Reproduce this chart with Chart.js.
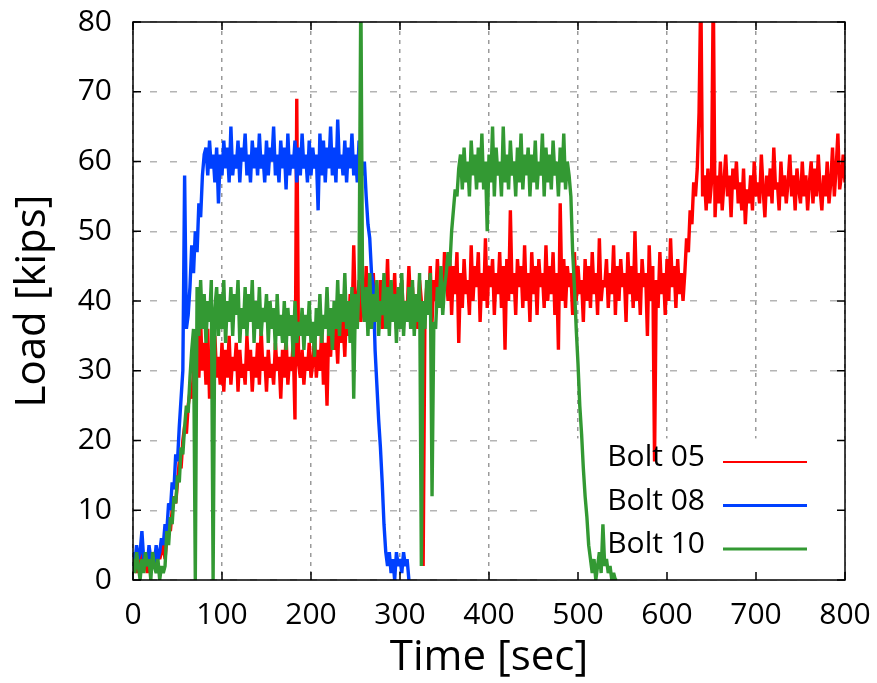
<!DOCTYPE html>
<html>
<head>
<meta charset="utf-8">
<title>Bolt load vs time</title>
<script src="https://cdn.jsdelivr.net/npm/chart.js@4.4.1/dist/chart.umd.min.js"></script>
<style>
  html, body { margin: 0; padding: 0; background: #fff; }
  #wrap { width: 877px; height: 683px; }
</style>
</head>
<body>
<div id="wrap"><canvas id="loadChart"></canvas></div>
<script>
// Bolt load traces, digitised every SAMPLE_SEC seconds (kips)
var SAMPLE_SEC = 2;

var seriesNames = ['Bolt 05', 'Bolt 08', 'Bolt 10'];
var xTicks = [0, 100, 200, 300, 400, 500, 600, 700, 800];
var yTicks = [0, 10, 20, 30, 40, 50, 60, 70, 80];

// Bolt 05: t = 0 .. 800 s
var bolt05 = [
  2,3,1,3,2,4,2,3,1,3,2,4,3,2,4,3,
  4,5,3,6,8,7,10,12,11,14,17,16,20,22,21,25,27,26,30,32,
  35,29,37,30,34,28, 36,26,33,27,35,29, 32,28,34,27,33,29,35,28,
  32,30,34,27,33,29,31,28,35,30, 33,27,32,29,34,28,36,30,32,27,
  33,29,31,28,34,30,32,26,33,29, 35,28,32,30,34,23,69,31,29,33,
  28,32,30,34,29,
  31,35,29,33,30,36,28,34,25,37, 32,38,33,36,31,39,34,37,32,40, 35,41,36,48,38,
  39,43,37,41,38,45,36,42,39,44, 37,41,38,43,36,40,39,46,37,42,
  38,44,36,41,39,43,37,40,38,45, 39,42,37,41,36,43,40,2,38,42,
  39,45,37,43,40,46,41,44,39,47,
  44,40,46,38,45,41,47,34,44,39, 46,41,43,38,48,40,45,42,47,37,
  44,40,49,39,45,42,46,38,44,41, 47,39,45,33,46,40,53,41,44,38,
  46,42,45,39,48,40,44,37,47,41, 45,38,46,42,44,39,48,40,45,41,
  47,38,44,33,54,40,46,39,45,42, 44,38,47,40,45,41,43,37,46,40,
  45,39,47,41,44,38,49,40,43,42, 46,39,44,41,48,38,45,40,46,42,
  44,37,47,41,45,39,50,40,44,38, 46,42,44,35,48,40,45,17,43,39,
  47,41,44,38,46,40,49,42,45,39, 46,41,44,40,
  44,49,47,53,51,57,55,59,
  67,85,55,58,53,59,54,57,85,52, 58,54,60,53,57,61,55,58,52,59,
  56,60,54,57,53,59,51,56,54,58, 53,60,55,57,54,61,56,52,58,55,
  59,54,62,56,57,53,60,55,58,54, 57,61,55,58,53,59,56,54,60,55,
  58,53,57,60,54,59,55,61,56,53, 58,55,60,54,57,62,55,59,64,56,
  58,61,57
];

// Bolt 08: t = 0 .. 310 s
var bolt08 = [
  4,2,5,3,4,7,3,4,2,5,3,4,2,5,3,4,
  6,5,8,7,11,10,14,13,18,17,22,26,30,58,36,38,42,48,44,50,47,54,52,58,61,
  62,58,63,59,61,57,62,54,61,58, 63,59,62,57,65,58,61,59,63,57,
  62,60,64,58,61,57,63,59,62,58, 64,59,61,57,63,58,62,60,65,58,
  61,57,63,59,62,56,64,58,61,59, 63,57,62,58,64,59,61,57,63,58,
  62,59,61,53,64,58,63,57,62,59, 65,58,62,57,66,59,61,58,63,57,
  62,59,64,58,61,57,63,
  61,58,60,55,51,49,44,42,33,28,23,19,14,8,4,
  2,4,1,3,0,4,2,3,1,4,2,3,0
];

// Bolt 10: t = 0 .. 544 s
var bolt10 = [
  3,1,4,2,0,3,1,4,2,3,0,4,2,1,3,0,2,1,
  2,7,5,9,8,12,11,15,14,19,18,22,25,24,29,33,36,
  0,42,35,43,36,41,34,40,37,43, 0,39,42,35,41,36,43,34,40,37,
  42,35,41,38,43,34,39,36,42,35, 41,37,43,34,40,36,42,35,39,37,
  41,34,40,36,39,33,41,35,38,34, 40,33,39,35,38,32,40,34,37,35,
  39,33,38,35,40,34,37,32,39,35, 41,34,38,36,42,35,39,33,40,36,
  43,35,41,37,44,36,40,34,42,26, 41,36,43,85,40,37,42,35,44,36,
  41,37,43,35,40,38,44,36,42,35, 43,37,41,34,42,36,44,35,40,37,
  42,36,43,35,41,37,44,2,40,36, 43,38,44,12,37,36,42,39,45,38,
  42,
  44,47,45,50,53,56,55,59,
  61,56,62,57,60,55,63,58,61,56, 62,57,64,56,60,50,61,57,65,55,
  62,58,60,55,65,57,61,56,63,58, 60,55,62,57,64,56,61,58,62,55,
  61,57,63,56,60,58,64,55,62,57, 61,56,63,58,60,55,62,57,64,56,
  60,
  58,55,47,42,36,31,25,21,16,12,9,5,3,
  1,3,0,2,4,1,8,2,3,1,2,0,1,0,0
];

var seriesColors = ['#ff0000', '#0040ff', '#339933'];
var keyLineWidths = [2, 3, 3];

function toPoints(values) {
  return values.map(function(v, i){ return { x: i * SAMPLE_SEC, y: v }; });
}

var FONT = "'Open Sans', 'Noto Sans', sans-serif";
Chart.defaults.font.family = FONT;
Chart.defaults.color = '#000';

// gnuplot-like frame, inward ticks and key (text left, sample line right)
var gnuplotFrame = {
  id: 'gnuplotFrame',
  beforeDatasetsDraw: function(chart) {
    var ctx = chart.ctx, a = chart.chartArea;
    var ys = chart.scales.y;
    // opaque key box hides the grid behind it
    ctx.save();
    ctx.fillStyle = '#fff';
    var top = ys.getPixelForValue(20.3);
    ctx.fillRect(a.right - 308, top, 308, a.bottom - top);
    ctx.restore();
  },
  afterDatasetsDraw: function(chart) {
    var ctx = chart.ctx, a = chart.chartArea;
    var xs = chart.scales.x, ys = chart.scales.y;
    ctx.save();
    ctx.strokeStyle = '#000';
    ctx.lineWidth = 1.5;
    ctx.setLineDash([]);
    ctx.strokeRect(a.left, a.top, a.right - a.left, a.bottom - a.top);
    ctx.beginPath();
    xs.ticks.forEach(function(t){
      var px = xs.getPixelForValue(t.value);
      ctx.moveTo(px, a.bottom); ctx.lineTo(px, a.bottom - 8);
      ctx.moveTo(px, a.top); ctx.lineTo(px, a.top + 8);
    });
    ys.ticks.forEach(function(t){
      var py = ys.getPixelForValue(t.value);
      ctx.moveTo(a.left, py); ctx.lineTo(a.left + 8, py);
      ctx.moveTo(a.right, py); ctx.lineTo(a.right - 8, py);
    });
    ctx.stroke();

    ctx.font = '30px ' + FONT;
    ctx.textAlign = 'right';
    ctx.textBaseline = 'alphabetic';
    ctx.fillStyle = '#000';
    chart.data.datasets.forEach(function(ds, i){
      var base = 466 + i * 43.5;
      ctx.fillText(ds.label, 705, base);
      ctx.strokeStyle = ds.borderColor;
      ctx.lineWidth = keyLineWidths[i];
      ctx.beginPath();
      ctx.moveTo(723, base - 4);
      ctx.lineTo(807, base - 4);
      ctx.stroke();
    });
    ctx.restore();
  }
};

var series = [bolt05, bolt08, bolt10];

new Chart(document.getElementById('loadChart').getContext('2d'), {
  type: 'line',
  data: {
    datasets: series.map(function(vals, i){
      return {
        label: seriesNames[i],
        data: toPoints(vals),
        borderColor: seriesColors[i],
        backgroundColor: seriesColors[i],
        borderWidth: 3.4,
        borderJoinStyle: 'bevel',
        borderCapStyle: 'butt',
        pointRadius: 0,
        tension: 0,
        fill: false,
        order: 3 - i   // Bolt 10 on top, Bolt 05 at the bottom
      };
    })
  },
  options: {
    responsive: true,
    maintainAspectRatio: false,
    animation: false,
    parsing: false,
    events: [],
    layout: { padding: { top: 22, right: 32, left: 0, bottom: 0 } },
    plugins: { legend: { display: false }, tooltip: { enabled: false } },
    scales: {
      x: {
        type: 'linear', min: 0, max: 800,
        afterBuildTicks: function(s){ s.ticks = xTicks.map(function(v){ return { value: v }; }); },
        afterFit: function(s){ s.height = 103; s.paddingLeft = 0; s.paddingRight = 0; },
        grid: { color: '#9a9a9a', lineWidth: 1.5, drawTicks: false },
        border: { display: false, dash: [4, 5] },
        ticks: { padding: 17, font: { size: 30 }, color: '#000', maxRotation: 0 },
        title: { display: true, text: 'Time [sec]', font: { size: 42 }, color: '#000', padding: { top: 0, bottom: 0 } }
      },
      y: {
        min: 0, max: 80,
        afterBuildTicks: function(s){ s.ticks = yTicks.map(function(v){ return { value: v }; }); },
        afterFit: function(s){ s.width = 133; s.paddingTop = 0; s.paddingBottom = 0; },
        grid: { color: '#b4b4b4', lineWidth: 1.5, drawTicks: false },
        border: { display: false, dash: [7, 13], dashOffset: 3 },
        ticks: { padding: 21, font: { size: 30 }, color: '#000' },
        title: { display: true, text: 'Load [kips]', font: { size: 42 }, color: '#000', padding: { top: 8, bottom: 0 } }
      }
    }
  },
  plugins: [gnuplotFrame]
});
</script>
</body>
</html>
